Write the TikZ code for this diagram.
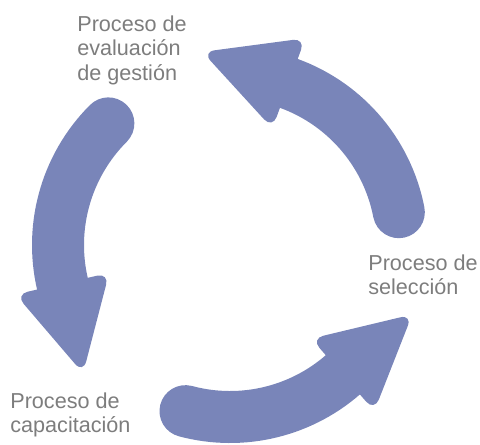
\documentclass[tikz,border=0pt]{standalone}
\usepackage{fontspec}
\setmainfont{Liberation Sans}
\usetikzlibrary{positioning}

\definecolor{cyclecol}{RGB}{121,133,185}
\definecolor{labelgray}{RGB}{125,125,125}

% one bent arrow of the cycle: #1 = tail angle, #2 = angle where the head starts
\newcommand{\cyclearrow}[2]{%
  \pgfmathsetmacro{\tailang}{#1-#2}
  \begin{scope}[rotate=#2]
    \draw[band] (\tailang:172) arc[start angle=\tailang, end angle=2, radius=172];
    \fill[cyclecol, rounded corners=7pt] (124,0) -- (220,0) -- (172,92) -- cycle;
  \end{scope}}

\begin{document}
\begin{tikzpicture}[x=0.02cm, y=0.02cm]
\tikzstyle{band}=[draw=cyclecol, line width=1.04cm, line cap=round]
\tikzstyle{lbl}=[anchor=north west, inner sep=0pt, align=left, text=labelgray,
  font=\fontsize{12.3}{14.2}\selectfont]
\useasboundingbox (-230,-199) rectangle (250,245);

% arrows
\cyclearrow{11}{70}
\cyclearrow{135}{193}
\cyclearrow{255}{311}

% labels
\node[lbl] (E) at (-153,230) {Proceso de\\evaluación\\de gestión};
\node[lbl] (S) at (138,-9) {Proceso de\\selección};
\node[lbl] (C) at (-220,-147) {Proceso de\\capacitación};
\end{tikzpicture}
\end{document}
